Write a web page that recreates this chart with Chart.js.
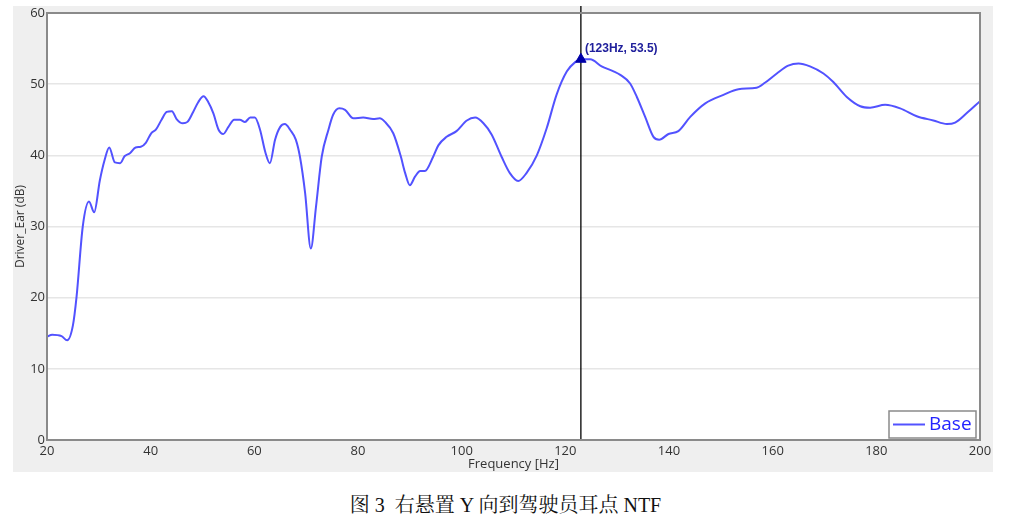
<!DOCTYPE html>
<html>
<head>
<meta charset="utf-8">
<script src="https://cdn.jsdelivr.net/npm/chart.js@4.4.1/dist/chart.umd.min.js"></script>
<style>
  html, body { margin: 0; padding: 0; background: #fff; width: 1011px; height: 521px; overflow: hidden; }
  #plotBox { position: absolute; left: 13px; top: 6px; width: 980px; height: 466px; background: #efefef; }
  #caption { position: absolute; left: 0; top: 489px; width: 1011px; text-align: center;
    font: 20px "Liberation Serif", "Noto Serif CJK SC", "Noto Sans CJK SC", serif; color: #111; }
</style>
</head>
<body>
<div id="plotBox"><canvas id="ntf" width="980" height="466"></canvas></div>
<div id="caption">图 3&nbsp; 右悬置 Y 向到驾驶员耳点 NTF</div>
<script>
// frequency (Hz) and Driver_Ear level (dB)
const freqHz = [
  20.0, 21.0, 22.8, 23.9, 25.0, 25.7, 26.9, 28.1, 29.1, 30.2,
  31.1, 32.0, 33.1, 34.1, 35.0, 36.0, 37.1, 38.1, 39.1, 40.1,
  41.0, 42.1, 43.1, 44.1, 45.0, 46.2, 47.1, 48.2, 49.2, 50.2,
  51.1, 52.1, 53.1, 54.0, 55.0, 56.1, 57.2, 58.2, 59.2, 60.1,
  61.1, 62.1, 63.0, 64.0, 65.0, 65.9, 66.9, 68.0, 68.8, 69.8,
  70.9, 71.9, 73.0, 74.3, 75.2, 76.4, 77.5, 79.1, 81.0, 82.9,
  84.2, 85.2, 86.8, 88.2, 89.1, 90.0, 91.0, 92.0, 92.9, 94.5,
  95.5, 97.1, 99.0, 101.0, 102.6, 104.2, 105.8, 107.7, 109.3, 110.9,
  112.5, 114.5, 116.4, 118.3, 120.3, 121.9, 123.0, 124.8, 127.0, 129.3,
  130.6, 132.5, 133.8, 135.4, 137.0, 138.1, 139.9, 141.8, 144.1, 147.0,
  150.5, 153.4, 156.9, 158.5, 160.8, 163.0, 165.0, 167.2, 169.8, 171.7,
  174.3, 176.9, 178.8, 181.7, 184.6, 187.8, 191.0, 193.6, 195.2, 197.4,
  200.0
];
const driverEar = [
  14.5, 14.8, 14.6, 14.0, 16.1, 20.1, 30.0, 33.5, 32.0, 36.5,
  39.3, 41.1, 39.0, 38.9, 39.9, 40.3, 41.1, 41.2, 41.8, 43.1,
  43.6, 45.0, 46.1, 46.2, 45.1, 44.5, 44.7, 46.1, 47.5, 48.3,
  47.5, 45.9, 43.6, 43.0, 44.0, 45.0, 45.0, 44.7, 45.3, 45.3,
  43.6, 40.5, 38.9, 42.2, 44.0, 44.4, 43.6, 42.2, 39.8, 34.7,
  26.9, 32.8, 39.8, 43.6, 45.7, 46.6, 46.4, 45.2, 45.3, 45.1,
  45.2, 44.7, 43.1, 40.0, 37.5, 35.8, 37.0, 37.8, 37.8, 39.8,
  41.4, 42.6, 43.4, 44.9, 45.3, 44.5, 42.9, 39.8, 37.5, 36.4,
  37.5, 40.0, 43.8, 48.5, 51.8, 53.1, 53.5, 53.5, 52.5, 51.8,
  51.3, 50.1, 48.2, 45.4, 42.6, 42.2, 43.0, 43.4, 45.4, 47.3,
  48.5, 49.3, 49.5, 50.2, 51.5, 52.6, 52.9, 52.5, 51.5, 50.3,
  48.2, 46.9, 46.7, 47.1, 46.6, 45.5, 44.9, 44.4, 44.6, 45.9,
  47.6
];
const cursorHz = [123];
const cursorDb = [53.5];
const xTickValues = [20, 40, 60, 80, 100, 120, 140, 160, 180, 200];
const yTickValues = [0, 10, 20, 30, 40, 50, 60];
const seriesName = 'Base';

const lineColor = '#5252ff';
const tickFont = { family: '"Open Sans", "Noto Sans", sans-serif', size: 13, lineHeight: 1.0 };

const plotDecor = {
  id: 'plotDecor',
  beforeDraw(chart) {
    const { ctx, chartArea: a } = chart;
    ctx.save();
    ctx.fillStyle = '#ffffff';
    ctx.fillRect(a.left, a.top, a.right - a.left, a.bottom - a.top);
    ctx.restore();
  },
  beforeDatasetsDraw(chart) {
    const { ctx, chartArea: a } = chart;
    const x = chart.scales.x.getPixelForValue(cursorHz[0]);
    ctx.save();
    ctx.strokeStyle = '#000000';
    ctx.lineWidth = 1.3;
    ctx.beginPath();
    ctx.moveTo(x, 0);
    ctx.lineTo(x, a.bottom);
    ctx.stroke();
    ctx.restore();
  },
  afterDatasetsDraw(chart) {
    const { ctx, chartArea: a } = chart;
    ctx.save();
    // plot frame
    ctx.strokeStyle = '#8a8a8a';
    ctx.lineWidth = 2;
    ctx.strokeRect(a.left, a.top, a.right - a.left, a.bottom - a.top);

    // cursor readout
    const px = chart.scales.x.getPixelForValue(cursorHz[0]);
    const py = chart.scales.y.getPixelForValue(cursorDb[0]);
    ctx.fillStyle = '#20209c';
    ctx.font = 'bold 12px "Liberation Sans Narrow", "Liberation Sans", Arial, sans-serif';
    ctx.textBaseline = 'middle';
    ctx.textAlign = 'left';
    ctx.fillText('(' + cursorHz[0] + 'Hz, ' + cursorDb[0] + ')', px + 4, py - 11);

    // legend box
    const bw = 87, bh = 27;
    const bx = a.right - 4 - bw, by = a.bottom - 2 - bh;
    ctx.fillStyle = '#ffffff';
    ctx.fillRect(bx, by, bw, bh);
    ctx.strokeStyle = '#8a8a8a';
    ctx.lineWidth = 1.5;
    ctx.strokeRect(bx, by, bw, bh);
    ctx.strokeStyle = lineColor;
    ctx.lineWidth = 2;
    ctx.beginPath();
    ctx.moveTo(bx + 4, by + 13.5);
    ctx.lineTo(bx + 36, by + 13.5);
    ctx.stroke();
    ctx.fillStyle = '#2323ff';
    ctx.font = '19px "Open Sans", "Noto Sans", sans-serif';
    ctx.fillText(seriesName, bx + 40, by + 13.5);
    ctx.restore();
  }
};

new Chart(document.getElementById('ntf'), {
  type: 'line',
  data: {
    datasets: [
      {
        label: 'cursor',
        data: cursorHz.map((f, i) => ({ x: f, y: cursorDb[i] })),
        showLine: false,
        pointStyle: 'triangle',
        pointRadius: 6,
        pointBackgroundColor: '#0000a8',
        pointBorderColor: '#0000a8',
        order: 0
      },
      {
        label: seriesName,
        data: freqHz.map((f, i) => ({ x: f, y: driverEar[i] })),
        borderColor: lineColor,
        borderWidth: 2,
        pointRadius: 0,
        fill: false,
        cubicInterpolationMode: 'monotone',
        order: 1
      }
    ]
  },
  options: {
    responsive: false,
    animation: false,
    events: [],
    layout: { padding: { top: 7, right: 13, left: 0, bottom: 0 } },
    plugins: {
      legend: { display: false },
      tooltip: { enabled: false }
    },
    scales: {
      x: {
        type: 'linear',
        min: 20,
        max: 200,
        afterBuildTicks: s => { s.ticks = xTickValues.map(v => ({ value: v })); },
        afterFit: s => { s.height = 32; s.paddingLeft = 0; s.paddingRight = 0; },
        grid: { display: false, drawTicks: false },
        border: { display: false },
        ticks: { color: '#333', font: tickFont, padding: 5, maxRotation: 0, autoSkip: false },
        title: { display: true, text: 'Frequency [Hz]', color: '#333',
          font: { family: tickFont.family, size: 13 }, padding: 0 }
      },
      y: {
        min: 0,
        max: 60,
        afterBuildTicks: s => { s.ticks = yTickValues.map(v => ({ value: v })); },
        afterFit: s => { s.width = 34; s.paddingTop = 0; s.paddingBottom = 0; },
        grid: { color: '#e6e6e6', lineWidth: 1.5, drawTicks: false },
        border: { display: false },
        ticks: { color: '#333', font: tickFont, padding: 2 },
        title: { display: true, text: 'Driver_Ear (dB)', color: '#333',
          font: { family: tickFont.family, size: 12 }, padding: 0 }
      }
    }
  },
  plugins: [plotDecor]
});
</script>
</body>
</html>
